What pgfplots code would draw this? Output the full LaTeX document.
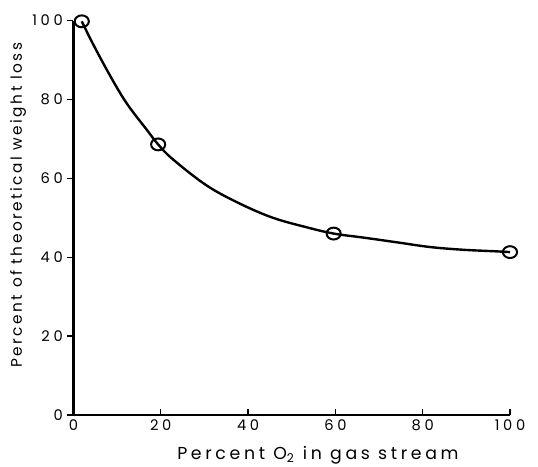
\documentclass[border=0pt]{standalone}
\usepackage{fontspec}
\setmainfont{Poppins}
\newfontfamily\tickfont[LetterSpace=25]{Poppins}
\newfontfamily\xlabfont[LetterSpace=21]{Poppins}
\newfontfamily\ylabfont[LetterSpace=16]{Poppins}
\usepackage{pgfplots}
\pgfplotsset{compat=1.18}
\begin{document}
\begin{tikzpicture}
\path[use as bounding box] (-55.1pt,-38.25pt) rectangle (348.4pt,311.3pt);
\begin{axis}[
  at={(0,0)}, anchor=south west,
  scale only axis,
  width=327.4pt, height=295.9pt,
  xmin=0, xmax=100, ymin=0, ymax=100,
  axis lines*=left,
  axis line style={line width=1.8pt,-},
  xtick={0,20,40,60,80,100},
  ytick={0,20,40,60,80,100},
  xtick align=inside, ytick align=outside,
  major tick length=4.5pt,
  tick style={line width=1pt,black},
  tick label style={font=\tickfont\fontsize{11}{13}\selectfont},
  /pgf/number format/assume math mode=true,
  xlabel={\xlabfont\fontsize{13}{15}\selectfont Percent O\textsubscript{2} in gas stream},
  ylabel={\ylabfont\fontsize{11.5}{14}\selectfont Percent of theoretical weight loss},
  every axis x label/.style={at={(axis description cs:0.56,0)}, anchor=center, yshift=-30pt},
  every axis y label/.style={at={(axis description cs:-0.127,0.532)}, anchor=center, rotate=90},
  clip=false,
]
\addplot[black, line width=1.8pt, smooth, tension=0.6] coordinates {
(1.9,99.8) (4.5,94.0) (8.4,86.0) (12.2,79.0) (16.8,72.3) (19.4,68.6) (22.8,64.8)
(30.5,58.2) (38.1,53.6) (45.7,50.0) (53.4,47.6) (59.6,46.0)
(66.3,45.0) (74.0,43.8) (81.6,42.6) (89.2,41.9) (96.8,41.5) (100,41.3)};
\addplot[only marks, mark=o, mark size=5.3pt, mark options={line width=1.5pt, fill=white, draw=black, yscale=0.84}] coordinates {
(1.9,99.8) (19.4,68.6) (59.6,46.0) (100,41.3)};
\end{axis}
\end{tikzpicture}
\end{document}
